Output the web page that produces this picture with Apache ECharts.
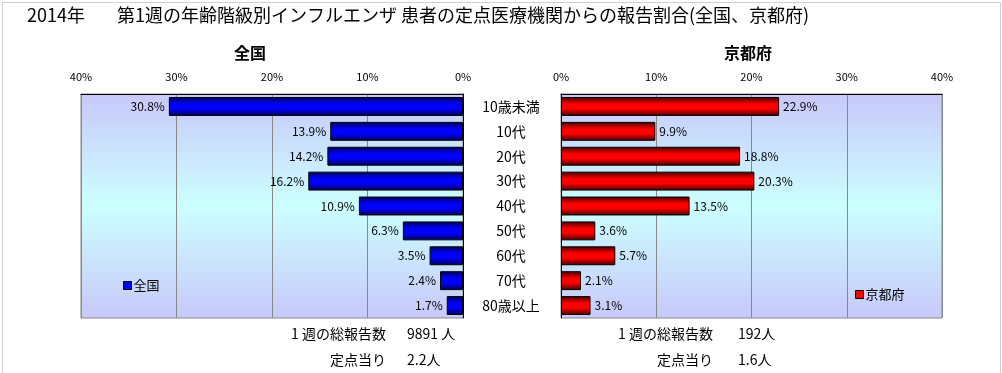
<!DOCTYPE html>
<html><head><meta charset="utf-8">
<script src="https://cdn.jsdelivr.net/npm/echarts@6/dist/echarts.min.js"></script>
<style>html,body{margin:0;padding:0;background:#fff}#c{width:1002px;height:373px}</style>
</head><body><div id="c"></div>
<script>
const categories = ['10歳未満','10代','20代','30代','40代','50代','60代','70代','80歳以上'];
const nationalValues = [30.8, 13.9, 14.2, 16.2, 10.9, 6.3, 3.5, 2.4, 1.7];
const kyotoValues = [22.9, 9.9, 18.8, 20.3, 13.5, 3.6, 5.7, 2.1, 3.1];
const regionNames = ['全国', '京都府'];
const weeklyTotals = [9891, 192];
const perSiteCounts = [2.2, 1.6];
const axisTicks = [0, 10, 20, 30, 40];

const FONT = '"Noto Sans CJK JP", sans-serif';
const chart = echarts.init(document.getElementById('c'));
const bg = {type:'linear',x:0,y:0,x2:0,y2:1,colorStops:[
  {offset:0,color:'#c8c8fa'},{offset:0.5,color:'#ccffff'},{offset:1,color:'#c8c8fa'}]};
function barGrad(dark, bright){
  return {type:'linear',x:0,y:0,x2:0,y2:1,colorStops:[
    {offset:0,color:dark},{offset:0.38,color:bright},{offset:0.62,color:bright},{offset:1,color:dark}]};
}
const gridTop = 94, gridH = 224;
function xAx(idx, inverse){
  return {gridIndex:idx, type:'value', min:axisTicks[0], max:axisTicks[axisTicks.length-1], interval:10,
    inverse:inverse, position:'top',
    axisLine:{show:true,lineStyle:{color:'#000',width:1}}, axisTick:{show:false},
    axisLabel:{formatter:'{value}%', color:'#000', fontSize:11, fontFamily:FONT, margin:12},
    splitLine:{show:true,lineStyle:{color:'#888',width:1}}};
}
function yAx(idx, pos, showLabel){
  return {gridIndex:idx, type:'category', data:categories, inverse:true, position:pos,
    axisLine:{show:true,lineStyle:{color:'#000'}}, axisTick:{show:false},
    axisLabel:{show:showLabel, align:'center', margin:48, color:'#000', fontSize:14, fontFamily:FONT}};
}
function labelFmt(p){ return p.value.toFixed(1) + '%'; }
const txt = (x,y,s,align,size,weight) => ({type:'text', x:x, y:y,
  style:{text:s, fill:'#000', font:(weight||'normal')+' '+(size||14)+'px '+FONT, textAlign:align||'left', textVerticalAlign:'middle'}});
chart.setOption({
  animation:false,
  backgroundColor:'#fff',
  grid:[
    {left:81, right:1002-463, top:gridTop, height:gridH, show:true, backgroundColor:bg, borderColor:'#888', borderWidth:1},
    {left:561, right:1002-942, top:gridTop, height:gridH, show:true, backgroundColor:bg, borderColor:'#888', borderWidth:1}
  ],
  xAxis:[xAx(0,true), xAx(1,false)],
  yAxis:[yAx(0,'right',true), yAx(1,'left',false)],
  legend:[
    {left:118, top:274, itemWidth:8, itemHeight:8, itemGap:2, textStyle:{fontSize:13,fontFamily:FONT,color:'#000',padding:[0,0,0,-3]},
     data:[{name:regionNames[0], icon:'rect', itemStyle:{color:'#0000ff',borderColor:'#000',borderWidth:1}}]},
    {left:850, top:283, itemWidth:8, itemHeight:8, itemGap:2, textStyle:{fontSize:13,fontFamily:FONT,color:'#000',padding:[0,0,0,-3]},
     data:[{name:regionNames[1], icon:'rect', itemStyle:{color:'#ff0000',borderColor:'#000',borderWidth:1}}]}
  ],
  series:[
    {name:regionNames[0], type:'bar', xAxisIndex:0, yAxisIndex:0, data:nationalValues, barCategoryGap:'24%',
     itemStyle:{color:barGrad('#000050','#0000ff'), borderColor:'#000', borderWidth:1},
     label:{show:true, position:'left', distance:4, formatter:labelFmt, color:'#000', fontSize:12, fontFamily:FONT}},
    {name:regionNames[1], type:'bar', xAxisIndex:1, yAxisIndex:1, data:kyotoValues, barCategoryGap:'24%',
     itemStyle:{color:barGrad('#400000','#ff0000'), borderColor:'#000', borderWidth:1},
     label:{show:true, position:'right', distance:4, formatter:labelFmt, color:'#000', fontSize:12, fontFamily:FONT}}
  ],
  graphic:[
    {type:'rect', left:0, top:0, shape:{width:998, height:400}, style:{fill:'none', stroke:'#d0d0d0', lineWidth:1}, silent:true},
    txt(27, 15, '2014年', 'left', 18),
    txt(117, 15, '第1週の年齢階級別インフルエンザ 患者の定点医療機関からの報告割合(全国、京都府)', 'left', 18),
    txt(250, 53, regionNames[0], 'center', 16, 'bold'),
    txt(748, 53, regionNames[1], 'center', 16, 'bold'),
    txt(386, 334, '1 週の総報告数', 'right', 14),
    txt(407, 334, weeklyTotals[0] + ' 人', 'left', 14),
    txt(386, 360, '定点当り', 'right', 14),
    txt(407, 360, perSiteCounts[0].toFixed(1) + '人', 'left', 14),
    txt(713, 334, '1 週の総報告数', 'right', 14),
    txt(738, 334, weeklyTotals[1] + '人', 'left', 14),
    txt(713, 360, '定点当り', 'right', 14),
    txt(738, 360, perSiteCounts[1].toFixed(1) + '人', 'left', 14)
  ]
});
</script></body></html>
